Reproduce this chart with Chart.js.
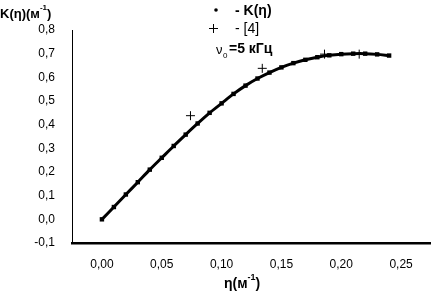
<!DOCTYPE html>
<html>
<head>
<meta charset="utf-8">
<script src="https://cdn.jsdelivr.net/npm/chart.js@4"></script>
<style>
  html, body { margin: 0; padding: 0; background: #fff; }
  #wrap { width: 431px; height: 299px; }
</style>
</head>
<body>
<div id="wrap"><canvas id="k"></canvas></div>
<script>
const eta = [0.00, 0.01, 0.02, 0.03, 0.04, 0.05, 0.06, 0.07, 0.08, 0.09, 0.10, 0.11, 0.12,
  0.13, 0.14, 0.15, 0.16, 0.17, 0.18, 0.19, 0.20, 0.21, 0.22, 0.23, 0.24];
const kEta = [0, 0.052, 0.105, 0.157, 0.21, 0.26, 0.31, 0.358, 0.405, 0.45, 0.49, 0.53, 0.565,
  0.595, 0.62, 0.642, 0.66, 0.674, 0.685, 0.693, 0.698, 0.700, 0.700, 0.697, 0.692];
const refEta = [0.074, 0.134, 0.186, 0.215];
const refK = [0.438, 0.638, 0.698, 0.698];
const xTicks = [0, 0.05, 0.10, 0.15, 0.20, 0.25];

const comma = (v, d) => v.toFixed(d).replace(".", ",");

// text with a small "-1" superscript
function supText(ctx, x, y, base, sup, font, supFont) {
  ctx.font = font;
  ctx.fillText(base, x, y);
  let w = ctx.measureText(base).width;
  ctx.font = supFont;
  ctx.fillText(sup, x + w, y - 6);
  let w2 = ctx.measureText(sup).width;
  ctx.font = font;
  ctx.fillText(")", x + w + w2, y);
}

const labels = {
  id: "labels",
  afterDraw(chart) {
    const ctx = chart.ctx;
    ctx.save();
    ctx.fillStyle = "#000";
    ctx.textBaseline = "middle";
    ctx.textAlign = "left";
    supText(ctx, 0, 14, "K(η)(м", "-1", "bold 13px 'Liberation Sans'", "bold 8px 'Liberation Sans'");
    supText(ctx, 224, 284, "η(м", "-1", "bold 14px 'Liberation Sans'", "bold 9px 'Liberation Sans'");
    // legend
    ctx.beginPath();
    ctx.arc(216, 10, 1.8, 0, Math.PI * 2);
    ctx.fill();
    ctx.font = "bold 14px 'Liberation Sans'";
    ctx.fillText("- K(η)", 235, 11);
    ctx.strokeStyle = "#000";
    ctx.lineWidth = 1;
    ctx.beginPath();
    ctx.moveTo(209, 28.5); ctx.lineTo(218, 28.5);
    ctx.moveTo(213.5, 24); ctx.lineTo(213.5, 33);
    ctx.stroke();
    ctx.font = "14px 'Liberation Sans'";
    ctx.fillText("- [4]", 235, 29);
    ctx.font = "13px 'Liberation Sans'";
    ctx.fillText("ν", 216, 50);
    ctx.font = "8px 'Liberation Sans'";
    ctx.fillText("0", 223, 56);
    ctx.font = "bold 14px 'Liberation Sans'";
    ctx.fillText("=5 кГц", 229, 49);
    ctx.restore();
  }
};

new Chart(document.getElementById("k"), {
  type: "scatter",
  data: {
    datasets: [
      {
        label: "K(η)",
        data: eta.map((x, i) => ({ x: x, y: kEta[i] })),
        showLine: true,
        borderColor: "#000",
        backgroundColor: "#000",
        borderWidth: 3,
        pointRadius: 1,
        pointStyle: "rect",
        tension: 0.3,
      },
      {
        label: "[4]",
        data: refEta.map((x, i) => ({ x: x, y: refK[i] })),
        pointStyle: "cross",
        pointRadius: 4.5,
        borderWidth: 1,
        borderColor: "#000",
      },
    ],
  },
  options: {
    responsive: true,
    maintainAspectRatio: false,
    animation: false,
    layout: { autoPadding: false, padding: { top: 30, right: 0, left: 0, bottom: 0 } },
    plugins: { legend: { display: false }, tooltip: { enabled: false } },
    scales: {
      x: {
        type: "linear",
        min: -0.025,
        max: 0.275,
        afterBuildTicks: (s) => { s.ticks = xTicks.map((v) => ({ value: v })); },
        afterFit: (s) => { s.height = 56; s.paddingLeft = 0; s.paddingRight = 0; },
        grid: { display: false, drawTicks: false },
        border: { color: "#000", width: 2.5 },
        ticks: {
          padding: 14,
          color: "#000",
          font: { family: "Liberation Sans", size: 12 },
          callback: (v) => comma(v, 2),
        },
      },
      y: {
        min: -0.1,
        max: 0.8,
        afterFit: (s) => { s.width = 72; s.paddingTop = 0; s.paddingBottom = 0; },
        grid: { display: false, drawTicks: false },
        border: { color: "#000", width: 1 },
        ticks: {
          stepSize: 0.1,
          padding: 17,
          color: "#000",
          font: { family: "Liberation Sans", size: 12 },
          callback: (v) => comma(v, 1),
        },
      },
    },
  },
  plugins: [labels],
});
</script>
</body>
</html>
